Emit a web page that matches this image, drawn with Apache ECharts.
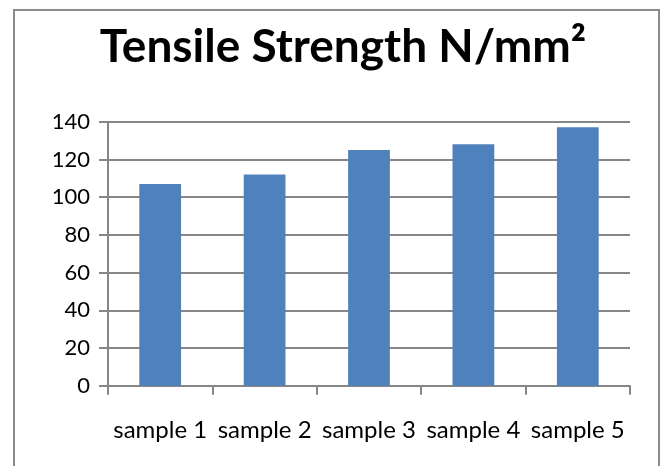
<!DOCTYPE html>
<html>
<head>
<meta charset="utf-8">
<script src="https://cdn.jsdelivr.net/npm/echarts@6/dist/echarts.min.js"></script>
<style>
html,body{margin:0;padding:0;background:#fff;}
#c{width:664px;height:466px;}
</style>
</head>
<body>
<div id="c"></div>
<script>
const titleText = 'Tensile Strength N/mm\u00B2';
const categories = ['sample 1', 'sample 2', 'sample 3', 'sample 4', 'sample 5'];
const values = [107, 112, 125, 128, 137];
const yTicks = { min: 0, max: 140, interval: 20 };

const chart = echarts.init(document.getElementById('c'), null, { renderer: 'canvas' });
const axisGray = '#868686';
chart.setOption({
  animation: false,
  backgroundColor: '#ffffff',
  title: {
    text: titleText,
    left: 338,
    top: 19,
    textAlign: 'center',
    textStyle: { fontFamily: 'Lato', fontWeight: 'bold', fontSize: 46, color: '#000' }
  },
  graphic: [{
    type: 'rect',
    shape: { x: 14, y: 10, width: 645, height: 480 },
    style: { fill: 'none', stroke: '#8c8c8c', lineWidth: 2 },
    silent: true
  }],
  grid: { left: 108, right: 34, top: 121.7, bottom: 80.3, containLabel: false },
  xAxis: {
    type: 'category',
    data: categories,
    boundaryGap: true,
    axisLine: { show: true, lineStyle: { color: axisGray, width: 2 } },
    axisTick: { show: true, length: 9, lineStyle: { color: axisGray, width: 2 } },
    axisLabel: { color: '#000', fontFamily: 'Lato', fontSize: 24, margin: 33, interval: 0 },
    splitLine: { show: false }
  },
  yAxis: {
    type: 'value',
    min: yTicks.min, max: yTicks.max, interval: yTicks.interval,
    axisLine: { show: true, lineStyle: { color: axisGray, width: 2 } },
    axisTick: { show: true, length: 9, lineStyle: { color: axisGray, width: 2 } },
    axisLabel: { color: '#000', fontFamily: 'Lato', fontSize: 22, margin: 18 },
    splitLine: { show: true, lineStyle: { color: axisGray, width: 2 } }
  },
  series: [{
    type: 'bar',
    data: values,
    barWidth: '40%',
    itemStyle: { color: '#4F81BD' }
  }]
});
</script>
</body>
</html>
